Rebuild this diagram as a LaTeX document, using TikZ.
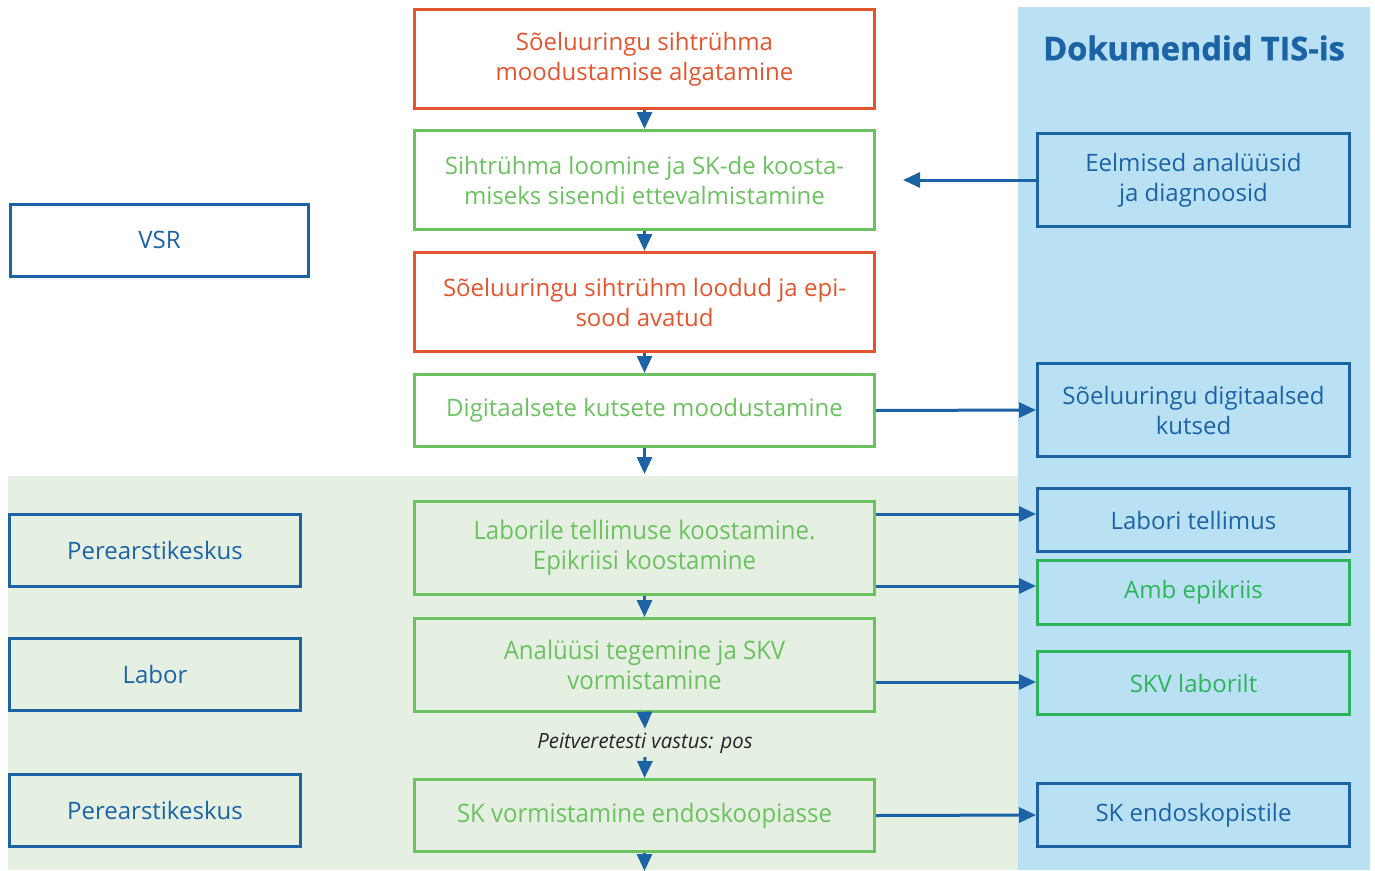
\documentclass[tikz,border=0pt]{standalone}
\usepackage{fontspec}
\setmainfont{Open Sans}
\newfontfamily\condfont[FakeStretch=0.94]{Open Sans}
\newfontfamily\labfont[FakeStretch=0.97]{Open Sans}
\newfontfamily\titlefont[BoldFeatures={FakeBold=1.2}]{Open Sans}
\usetikzlibrary{arrows.meta}
\definecolor{dblue}{HTML}{1C63A6}
\definecolor{tred}{HTML}{E2552F}
\definecolor{lgreen}{HTML}{6CC160}
\definecolor{sgreen}{HTML}{2DB45B}
\definecolor{panelblue}{HTML}{B9E1F3}
\definecolor{bggreen}{HTML}{E5F0E3}
\begin{document}
\begin{tikzpicture}[x=1pt,y=-1pt,
  box/.style={draw, line width=3pt, align=center, inner sep=0pt,
    font=\fontsize{24}{30}\selectfont},
  cbox/.style={box, minimum width=460pt},
  lbox/.style={box, draw=dblue, text=dblue, minimum width=291pt, minimum height=72pt},
  rbox/.style={box, minimum width=312pt},
  arr/.style={draw=dblue, line width=3pt, -{Triangle[length=17pt,width=15pt]}},
  condtext/.style={font=\condfont\fontsize{25.5}{30}\selectfont}
]
\useasboundingbox (0,0) rectangle (1375,870);
\fill[bggreen] (8,476) rectangle (1018,870);
\fill[panelblue] (1018,7) rectangle (1370,870);

\node[font=\titlefont\bfseries\fontsize{32.5}{36}\selectfont, text=dblue] (title) at (1194,48) {Dokumendid TIS-is};

% central column
\node[cbox, draw=tred, text=tred, minimum height=99pt] (b1) at (644.5,59) {Sõeluuringu sihtrühma\\moodustamise algatamine};
\node[cbox, draw=lgreen, text=lgreen, minimum height=99pt] (b2) at (644.5,180) {Sihtrühma loomine ja SK-de koosta-\\miseks sisendi ettevalmistamine};
\node[cbox, draw=tred, text=tred, minimum height=99pt] (b3) at (644.5,302) {Sõeluuringu sihtrühm loodud ja epi-\\sood avatud};
\node[cbox, draw=lgreen, text=lgreen, minimum height=72pt] (b4) at (644.5,410.5) {Digitaalsete kutsete moodustamine};
\node[cbox, condtext, draw=lgreen, text=lgreen, minimum height=93pt] (b5) at (644.5,548) {Laborile tellimuse koostamine.\\Epikriisi koostamine};
\node[cbox, condtext, draw=lgreen, text=lgreen, minimum height=93pt] (b6) at (644.5,665) {Analüüsi tegemine ja SKV\\vormistamine};
\node[cbox, condtext, draw=lgreen, text=lgreen, minimum height=72pt] (b7) at (644.5,815.5) {SK vormistamine endoskoopiasse};
\node[font=\labfont\itshape\fontsize{21}{24}\selectfont, text=black!85, minimum height=28pt, inner sep=0pt] (lab) at (645,743) {Peitveretesti vastus: pos};

% left column
\node[lbox, minimum width=298pt] (vsr) at (159.5,240) {VSR};
\node[lbox] (p1) at (155,550.5) {Perearstikeskus};
\node[lbox] (labor) at (155,674.5) {Labor};
\node[lbox] (p2) at (155,810.5) {Perearstikeskus};

% right column
\node[rbox, draw=dblue, text=dblue, minimum height=93pt] (r1) at (1193.5,180) {Eelmised analüüsid\\ja diagnoosid};
\node[rbox, draw=dblue, text=dblue, minimum height=93pt] (r2) at (1193.5,410) {Sõeluuringu digitaalsed\\kutsed};
\node[rbox, draw=dblue, text=dblue, minimum height=63pt] (r3) at (1193.5,520) {Labori tellimus};
\node[rbox, draw=sgreen, text=sgreen, minimum height=64pt] (r4) at (1193.5,592.5) {Amb epikriis};
\node[rbox, draw=sgreen, text=sgreen, minimum height=63pt] (r5) at (1193.5,683) {SKV laborilt};
\node[rbox, draw=dblue, text=dblue, minimum height=63pt] (r6) at (1193.5,815) {SK endoskopistile};

\coordinate (in2) at (903,180);
\coordinate (e4) at (644.5,474);
\coordinate (e7) at (644.5,871);

% vertical flow
\draw[arr] (b1.south) -- (b2.north);
\draw[arr] (b2.south) -- (b3.north);
\draw[arr] (b3.south) -- (b4.north);
\draw[arr] (b4.south) -- (e4);
\draw[arr] (b5.south) -- (b6.north);
\draw[arr] (b6.south) -- (lab.north);
\draw[arr] (lab.south) -- (b7.north);
\draw[arr] (b7.south) -- (e7);

% horizontal
\draw[arr] (r1.west) -- (in2);
\draw[arr] (b4.east) -- (r2.west);
\draw[arr] (b5.east |- 0,514) -- (r3.west |- 0,514);
\draw[arr] (b5.east |- 0,586) -- (r4.west |- 0,586);
\draw[arr] (b6.east |- 0,682) -- (r5.west |- 0,682);
\draw[arr] (b7.east) -- (r6.west);
\end{tikzpicture}
\end{document}
